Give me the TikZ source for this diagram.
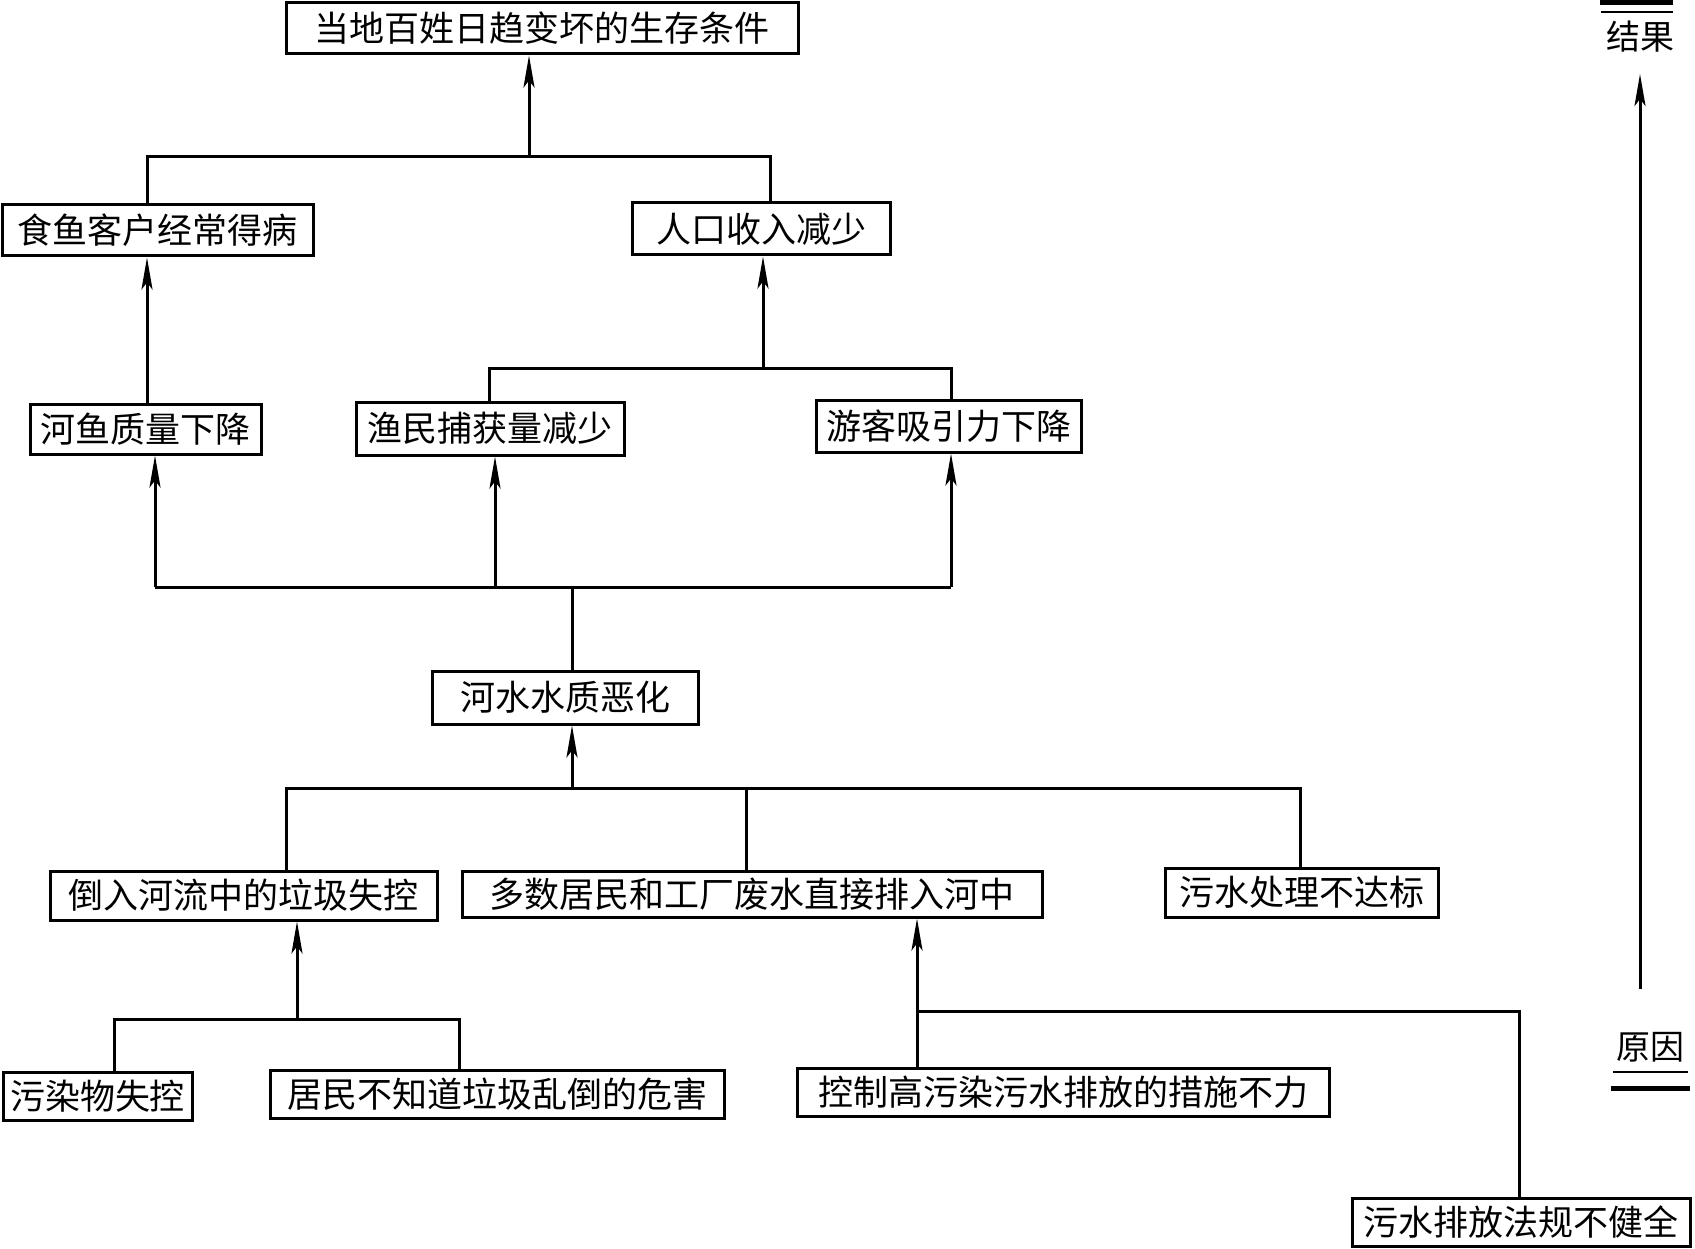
\documentclass[tikz,border=0pt]{standalone}
\usepackage{fontspec}
\newfontfamily\cjk{Noto Sans CJK SC}
\usetikzlibrary{arrows.meta}
\begin{document}
\begin{tikzpicture}[x=1pt,y=-1pt,
  box/.style={draw,line width=3pt,inner sep=0pt,font=\cjk\fontsize{35}{40}\selectfont},
  ln/.style={line width=3pt},
  arr/.style={line width=3pt,-{Stealth[length=32pt,width=11pt,inset=7pt]}},
  lbl/.style={inner sep=0pt,font=\cjk\fontsize{34}{38}\selectfont}]
\useasboundingbox (0,0) rectangle (1695,1249);
% boxes
\node[box,minimum width=512,minimum height=51] (top) at (542,28.5) {当地百姓日趋变坏的生存条件};
\node[box,minimum width=311,minimum height=51] (shiyu) at (157.5,230.5) {食鱼客户经常得病};
\node[box,minimum width=258,minimum height=52] (renkou) at (761,229) {人口收入减少};
\node[box,minimum width=231,minimum height=50] (heyu) at (145.5,429) {河鱼质量下降};
\node[box,minimum width=268,minimum height=53] (yumin) at (490,428.5) {渔民捕获量减少};
\node[box,minimum width=265,minimum height=52] (youke) at (948.5,426) {游客吸引力下降};
\node[box,minimum width=266,minimum height=53] (heshui) at (565,697.5) {河水水质恶化};
\node[box,minimum width=387,minimum height=49] (daoru) at (243.5,895.5) {倒入河流中的垃圾失控};
\node[box,minimum width=580,minimum height=46] (duoshu) at (752,894) {多数居民和工厂废水直接排入河中\hspace{24pt}};
\node[box,minimum width=273,minimum height=49] (chuli) at (1301.5,892.5) {污水处理不达标};
\node[box,minimum width=189,minimum height=48] (wuran) at (97.5,1096) {污染物失控};
\node[box,minimum width=454,minimum height=48] (jumin) at (497,1094) {居民不知道垃圾乱倒的危害};
\node[box,minimum width=532,minimum height=48] (kongzhi) at (1063,1092) {控制高污染污水排放的措施不力};
\node[box,minimum width=338,minimum height=48] (fagui) at (1521,1222) {污水排放法规不健全};
% junction coordinates
\coordinate (j1) at (529,157);
\coordinate (a1) at (147,157);
\coordinate (b1) at (770,157);
\coordinate (a2) at (489,368);
\coordinate (b2) at (951,368);
\coordinate (j2) at (763,368);
\coordinate (a3) at (155,587);
\coordinate (m3) at (495,587);
\coordinate (b3) at (951,587);
\coordinate (j3) at (572,587);
\coordinate (a4) at (286,788);
\coordinate (m4) at (746,788);
\coordinate (b4) at (1300,788);
\coordinate (j4) at (572,788);
\coordinate (a5) at (114,1019);
\coordinate (b5) at (459,1019);
\coordinate (j5) at (297,1019);
\coordinate (a6) at (917,1011);
\coordinate (b6) at (1519,1011);
% connectors
\draw[arr] (j1) -- (j1 |- top.south);
\draw[ln] (a1 |- shiyu.north) -- (a1) -- (b1) -- (b1 |- renkou.north);
\draw[arr] (a1 |- heyu.north) -- (a1 |- shiyu.south);
\draw[ln] (a2 |- yumin.north) -- (a2) -- (b2) -- (b2 |- youke.north);
\draw[arr] (j2) -- (j2 |- renkou.south);
\draw[ln] (a3) -- (b3);
\draw[arr] (a3) -- (a3 |- heyu.south);
\draw[arr] (m3) -- (m3 |- yumin.south);
\draw[arr] (b3) -- (b3 |- youke.south);
\draw[ln] (j3) -- (j3 |- heshui.north);
\draw[arr] (j4) -- (j4 |- heshui.south);
\draw[ln] (a4 |- daoru.north) -- (a4) -- (b4) -- (b4 |- chuli.north);
\draw[ln] (m4) -- (m4 |- duoshu.north);
\draw[arr] (j5) -- (j5 |- daoru.south);
\draw[ln] (a5 |- wuran.north) -- (a5) -- (b5) -- (b5 |- jumin.north);
\draw[arr] (a6) -- (a6 |- duoshu.south);
\draw[ln] (a6 |- kongzhi.north) -- (a6) -- (b6) -- (b6 |- fagui.north);
% axis
\node[lbl] (res) at (1640,37) {结果};
\node[lbl] (cause) at (1650,1047) {原因};
\draw[arr] (1640,989) coordinate (ax0) -- (1640,74) coordinate (ax1);
\draw[line width=5pt] (1600,2.5) -- (1673,2.5);
\draw[line width=2.5pt] (1601,12) -- (1673,12);
\draw[line width=2.5pt] (1613,1072) -- (1688,1072);
\draw[line width=5pt] (1611,1088) -- (1690,1088);
\end{tikzpicture}
\end{document}
